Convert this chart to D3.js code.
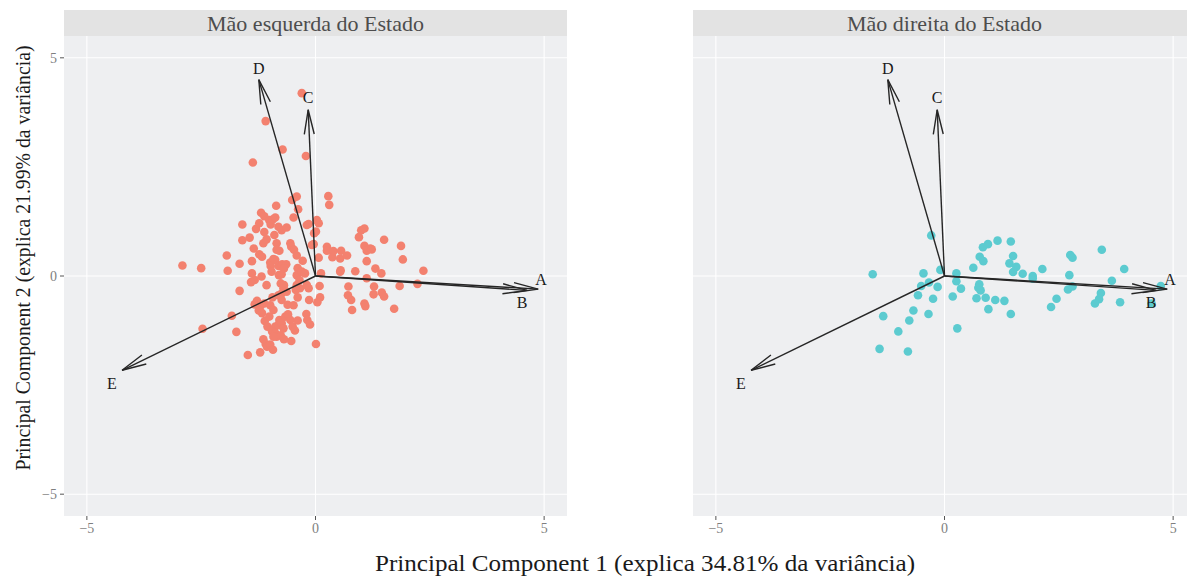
<!DOCTYPE html>
<html lang="pt">
  <head>
    <meta charset="UTF-8" />
    <title>PCA biplot</title>
    <script src="https://d3js.org/d3.v7.min.js"></script>
    <style>
      body { margin: 0; background: #fff; }
      svg { display: block; font-family: "Liberation Serif", "Times New Roman", serif; }
    </style>
  </head>
  <body>
    <svg></svg>
    <script>
      // facet titles
      let facets = ["Mão esquerda do Estado", "Mão direita do Estado"];
      let ticks = [-5, 0, 5];
      let tickLabels = ["\u22125", "0", "5"];

      // loadings (arrow tips) and label positions, in PC units
      let variables = ["A", "B", "C", "D", "E"];
      let arrowX = [4.87, 4.63, -0.16, -1.24, -4.23];
      let arrowY = [-0.3, -0.33, 3.81, 4.5, -2.16];
      let labelX = [4.93, 4.52, -0.16, -1.24, -4.45];
      let labelY = [-0.08, -0.6, 4.1, 4.76, -2.45];

      // scores, left hand of the state
      let esquerda = [
        [-2.91,0.24],[-2.5,0.18],[-1.94,0.47],[-1.92,0.12],[-1.66,0.28],[-1.6,1.18],[-1.6,0.82],
        [-1.44,0.88],[-1.39,0.34],[-1.35,0.63],[-1.3,1.08],[-1.23,1.21],[-1.19,1.45],[-1.12,1.37],
        [-1.14,0.75],[-1.23,0.5],[-1.17,0.44],[-1.12,1.01],[-1.07,0.84],[-1.01,1.28],[-0.98,1.18],
        [-0.93,1.3],[-0.88,1.34],[-0.86,1.61],[-0.9,0.94],[-0.85,0.75],[-0.81,1.13],[-0.74,1.05],
        [-0.63,1.11],[-0.51,1.74],[-0.41,1.82],[-0.38,1.53],[-0.48,1.34],[-0.55,0.75],[-0.53,0.67],
        [-0.47,0.6],[-0.41,0.47],[-0.99,0.31],[-0.92,0.39],[-0.98,0.23],[-0.85,0.6],[-0.79,0.58],
        [-0.88,0.37],[-0.81,0.23],[-0.73,0.27],[-0.64,0.27],[-0.69,0.17],[-1.39,0.06],[-1.18,-0.01],
        [-0.8,0.02],[-0.74,0.04],[-0.39,0.18],[-0.35,0.09],[-0.28,0.35],[-0.19,1.17],[-0.15,1.19],
        [-0.3,4.19],[-1.09,3.55],[-0.72,2.9],[-1.37,2.6],[-0.21,2.75],
        [0.28,1.83],[0.3,1.63],[0.03,1.28],[0.07,1.21],[-0.03,0.98],[0.01,1.02],[-0.08,0.71],
        [-0.04,0.73],[0.25,0.67],[0.25,0.58],[0.39,0.57],[0.56,0.58],[0.37,0.43],[0.54,0.4],
        [0.69,0.47],[0.07,0.42],[0.12,0.06],[0.55,0.13],[0.87,0.11],[1.0,1.05],[1.07,1.09],
        [0.95,0.89],[1.07,0.69],[1.12,0.58],[1.2,0.63],[1.23,0.61],[1.12,0.34],[1.31,0.17],
        [1.44,0.06],[1.5,0.83],[1.87,0.69],[1.91,0.38],[2.36,0.12],
        [-1.33,-0.09],[-1.41,-0.14],[-1.07,-0.21],[-0.96,0.1],[-1.66,-0.34],[-0.76,-0.17],
        [-0.69,-0.21],[-0.7,-0.28],[-0.74,-0.4],[-0.63,-0.36],[-0.41,0.02],[-0.35,-0.09],
        [-0.41,-0.21],[-0.34,-0.28],[-0.19,-0.21],[-0.15,-0.28],[-1.28,-0.57],[-1.33,-0.65],
        [-1.21,-0.7],[-1.12,-0.63],[-0.99,-0.67],[-0.94,-0.49],[-0.81,-0.44],[-0.74,-0.55],
        [-0.61,-0.66],[-0.48,-0.67],[-0.39,-0.49],[-0.43,-0.32],[-0.14,-0.55],[-1.83,-0.91],
        [-1.73,-1.28],[-2.47,-1.21],[-1.24,-0.79],[-1.11,-1.03],[-1.05,-1.16],[-1.01,-0.93],
        [-0.92,-0.78],[-0.88,-1.16],[-0.81,-1.12],[-0.79,-1.01],[-0.74,-1.08],[-0.7,-1.2],
        [-0.66,-0.93],[-0.6,-0.88],[-0.55,-1.01],[-0.5,-1.16],[-0.39,-1.02],[-0.45,-1.25],
        [-0.2,-0.87],[-0.18,-1.01],[-0.53,-1.49],[-1.14,-1.45],[-1.09,-1.56],[-1.06,-1.62],
        [-0.99,-1.57],[-0.93,-1.69],[-1.21,-1.75],[-1.48,-1.81],[-0.95,-1.27],[-0.88,-1.31],
        [-0.85,-1.39],[-0.76,-1.36],[-0.69,-1.45],[-0.92,-1.39],[-1.17,-0.85],
        [-0.3,0.1],[-0.23,0.06],[0.09,-0.23],[0.1,-0.49],[0.04,-0.6],[-0.12,-1.11],[0.01,-1.56],
        [0.54,0.1],[1.12,-0.05],[0.72,-0.24],[0.71,-0.44],[0.78,-0.55],[0.8,-0.78],[1.28,-0.24],
        [1.27,-0.42],[1.45,-0.38],[1.5,-0.47],[1.07,-0.63],[1.09,-0.69],[1.72,-0.75],[1.84,-0.23],
        [2.23,-0.18]
      ];

      // scores, right hand of the state
      let direita = [
        [-1.57,0.04],[-0.29,0.93],[-0.46,0.06],[-0.09,0.14],[-0.34,-0.15],[-0.51,-0.23],[-0.15,-0.25],
        [-0.58,-0.44],[-0.25,-0.52],[-1.34,-0.92],[-0.68,-0.79],[-0.77,-1.02],[-0.35,-0.87],
        [-1.01,-1.27],[-1.42,-1.67],[-0.8,-1.73],[0.26,0.06],[0.26,-0.12],[0.36,-0.29],[0.18,-0.47],
        [0.28,-1.2],[0.63,0.19],[0.76,-0.19],[0.74,-0.27],[0.79,-0.33],[0.7,-0.51],[0.9,-0.5],
        [0.96,-0.76],[0.77,0.44],[0.85,0.34],[0.84,0.66],[0.95,0.73],[1.16,0.81],[1.45,0.79],
        [1.5,0.46],[1.42,0.29],[1.57,0.21],[1.5,0.09],[1.71,0.05],[1.93,0.0],[1.93,-0.06],
        [2.14,0.16],[1.11,-0.55],[1.31,-0.57],[1.45,-0.87],[2.33,-0.71],[2.45,-0.52],[2.73,0.02],
        [2.75,0.48],[2.8,0.42],[2.7,-0.31],[2.8,-0.24],[3.44,0.6],[3.93,0.16],[3.66,-0.11],
        [3.42,-0.39],[3.38,-0.53],[3.29,-0.63],[3.84,-0.6],[4.73,-0.23],[4.53,-0.63]
      ];

      let pointColors = ["#f3816f", "#5ccbd0"];

      let width = 1187,
        height = 578;
      let panelW = 503,
        panelH = 480,
        panelTop = 36,
        stripH = 26;
      let panelLeft = [64, 693];

      let svg = d3.select("svg").attr("width", width).attr("height", height);

      let x = d3.scaleLinear().domain([-5.5, 5.5]).range([0, panelW]);
      let y = d3.scaleLinear().domain([-5.5, 5.5]).range([panelH, 0]);

      let defs = svg.append("defs");
      defs
        .append("clipPath")
        .attr("id", "clip")
        .append("rect")
        .attr("width", panelW)
        .attr("height", panelH);

      [esquerda, direita].forEach((pts, i) => {
        let g = svg
          .append("g")
          .attr("transform", "translate(" + panelLeft[i] + "," + panelTop + ")");

        // strip
        g.append("rect")
          .attr("y", -stripH)
          .attr("width", panelW)
          .attr("height", stripH)
          .attr("fill", "#e3e3e3");
        g.append("text")
          .attr("x", panelW / 2)
          .attr("y", -stripH / 2)
          .attr("dy", "0.35em")
          .attr("text-anchor", "middle")
          .attr("font-size", 22)
          .attr("fill", "#4d4d4d")
          .text(facets[i]);

        // panel background
        g.append("rect")
          .attr("width", panelW)
          .attr("height", panelH)
          .attr("fill", "#eeeff1");

        let grid = g.append("g").attr("stroke", "#fff").attr("stroke-width", 1.1);
        grid
          .selectAll("line.v")
          .data(ticks)
          .enter()
          .append("line")
          .attr("x1", (d) => x(d))
          .attr("x2", (d) => x(d))
          .attr("y1", 0)
          .attr("y2", panelH);
        grid
          .selectAll("line.h")
          .data(ticks)
          .enter()
          .append("line")
          .attr("x1", 0)
          .attr("x2", panelW)
          .attr("y1", (d) => y(d))
          .attr("y2", (d) => y(d));

        let inner = g.append("g").attr("clip-path", "url(#clip)");

        inner
          .append("g")
          .selectAll("circle")
          .data(pts)
          .enter()
          .append("circle")
          .attr("cx", (d) => x(d[0]))
          .attr("cy", (d) => y(d[1]))
          .attr("r", 4.3)
          .attr("fill", pointColors[i]);

        // loading arrows
        let arrows = inner
          .append("g")
          .attr("fill", "none")
          .attr("stroke", "#262626")
          .attr("stroke-width", 1.4);
        variables.forEach((v, k) => {
          let x0 = x(0),
            y0 = y(0),
            x1 = x(arrowX[k]),
            y1 = y(arrowY[k]);
          let ang = Math.atan2(y1 - y0, x1 - x0);
          let len = 25,
            spread = 0.2;
          let b1 = [x1 - len * Math.cos(ang - spread), y1 - len * Math.sin(ang - spread)];
          let b2 = [x1 - len * Math.cos(ang + spread), y1 - len * Math.sin(ang + spread)];
          arrows
            .append("path")
            .attr("d", "M" + x0 + "," + y0 + "L" + x1 + "," + y1);
          arrows
            .append("path")
            .attr("d", "M" + b1 + "L" + x1 + "," + y1 + "L" + b2);
        });

        inner
          .append("g")
          .selectAll("text")
          .data(variables)
          .enter()
          .append("text")
          .attr("x", (d, k) => x(labelX[k]))
          .attr("y", (d, k) => y(labelY[k]))
          .attr("dy", "0.35em")
          .attr("text-anchor", "middle")
          .attr("font-size", 16)
          .attr("fill", "#1a1a1a")
          .text((d) => d);

        // x axis
        let xa = g.append("g").attr("transform", "translate(0," + panelH + ")");
        xa.selectAll("line")
          .data(ticks)
          .enter()
          .append("line")
          .attr("x1", (d) => x(d))
          .attr("x2", (d) => x(d))
          .attr("y1", 0)
          .attr("y2", 4)
          .attr("stroke", "#555");
        xa.selectAll("text")
          .data(ticks)
          .enter()
          .append("text")
          .attr("x", (d) => x(d))
          .attr("y", 17)
          .attr("text-anchor", "middle")
          .attr("font-size", 14)
          .attr("fill", "#7f7f7f")
          .text((d, k) => tickLabels[k]);

        if (i === 0) {
          let ya = g.append("g");
          ya.selectAll("line")
            .data(ticks)
            .enter()
            .append("line")
            .attr("x1", -4)
            .attr("x2", 0)
            .attr("y1", (d) => y(d))
            .attr("y2", (d) => y(d))
            .attr("stroke", "#555");
          ya.selectAll("text")
            .data(ticks)
            .enter()
            .append("text")
            .attr("x", -7)
            .attr("y", (d) => y(d))
            .attr("dy", "0.35em")
            .attr("text-anchor", "end")
            .attr("font-size", 14)
            .attr("fill", "#7f7f7f")
            .text((d, k) => tickLabels[k]);
        }
      });

      // axis titles
      svg
        .append("text")
        .attr("x", 645)
        .attr("y", 571)
        .attr("text-anchor", "middle")
        .attr("font-size", 24)
        .attr("textLength", 540)
        .attr("lengthAdjust", "spacingAndGlyphs")
        .attr("fill", "#1a1a1a")
        .text("Principal Component 1 (explica 34.81% da variância)");

      svg
        .append("text")
        .attr("transform", "translate(30,258) rotate(-90)")
        .attr("text-anchor", "middle")
        .attr("font-size", 22)
        .attr("textLength", 425)
        .attr("lengthAdjust", "spacingAndGlyphs")
        .attr("fill", "#1a1a1a")
        .text("Principal Component 2 (explica 21.99% da variância)");
    </script>
  </body>
</html>
